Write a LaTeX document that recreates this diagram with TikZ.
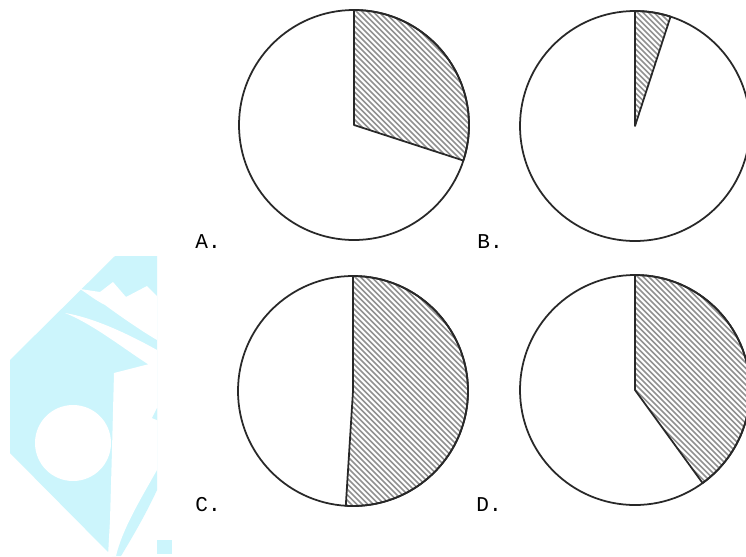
\documentclass[tikz,border=0pt]{standalone}
\usepackage{fontspec}
\setmonofont{Liberation Mono}
\definecolor{wmcyan}{RGB}{204,245,252}
\definecolor{hatchgray}{RGB}{145,145,145}
\definecolor{ink}{RGB}{40,40,40}
\tikzset{
  outline/.style={draw=ink, line width=1pt},
  hatchline/.style={draw=hatchgray, line width=0.95pt},
  lbl/.style={anchor=west, inner sep=0pt, font=\ttfamily\fontsize{12}{12}\selectfont, text=black},
  wm/.style={fill=wmcyan, draw=none},
  wmhole/.style={fill=white, draw=none}
}
\newcommand{\pieof}[2]{%
  \begin{scope}
    \clip (#1) -- ++(90:115) arc[start angle=90, end angle=#2, radius=115] -- cycle;
    \foreach \i in {-280,-274.5,...,280}
      \draw[hatchline, shift={(#1)}] (\i-150,150) -- ++(300,-300);
  \end{scope}
  \draw[outline, line join=round] (#1) -- ++(90:115) arc[start angle=90, end angle=#2, radius=115] -- cycle;
  \draw[outline] (#1) circle[radius=115];
}
\begin{document}
\begin{tikzpicture}[x=0.02cm, y=0.02cm]
\useasboundingbox (0,0) rectangle (746,556);
\fill[white] (0,0) rectangle (746,556);
% watermark
\fill[wm] (115,300) -- (157,300) -- (157,66) .. controls (145,40) and (130,15) .. (121,0) -- (112,0) -- (10,103) -- (10,196) -- cycle;
\fill[wm] (157,16) rectangle (172,2);
\fill[wmhole] (80,267) -- (100,264) -- (113,274) -- (126,259) -- (147,270) -- (157,260) -- (157,216) .. controls (140,226) and (120,240) .. (105,251) .. controls (95,256) and (88,262) .. cycle;
\fill[wmhole] (65,243) .. controls (95,238) and (130,221) .. (157,206) -- (157,186) .. controls (125,206) and (95,231) .. (65,243) -- cycle;
\fill[wmhole] (73,113) circle[radius=38];
\fill[wmhole] (114,183) -- (157,194) -- (157,86) .. controls (140,56) and (122,26) .. (116,0) -- (108,0) -- (110,36) -- (112,106) -- cycle;
\fill[wm] (157,148) -- (152,138) -- (157,136) -- cycle;
% pies
\coordinate (cA) at (354,431);
\coordinate (cB) at (635,430);
\coordinate (cC) at (353,165);
\coordinate (cD) at (635,166);
\pieof{cA}{-18}
\pieof{cB}{72}
\pieof{cC}{-93.6}
\pieof{cD}{-54}
% labels
\node[lbl] (lA) at (195,314) {A.};
\node[lbl] (lB) at (477,314) {B.};
\node[lbl] (lC) at (195,51) {C.};
\node[lbl] (lD) at (476,51) {D.};
\end{tikzpicture}
\end{document}
